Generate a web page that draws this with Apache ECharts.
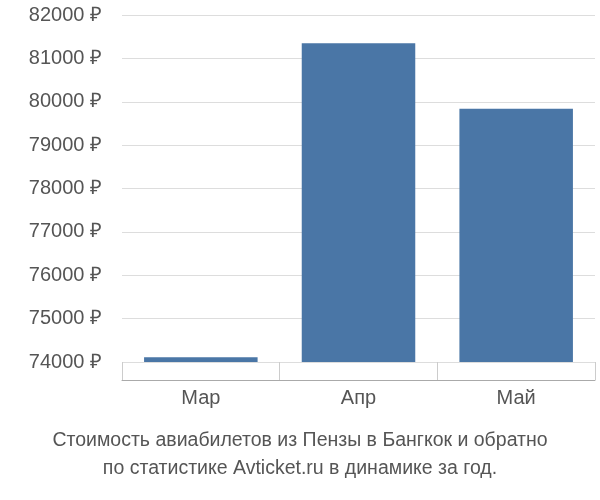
<!DOCTYPE html>
<html><head><meta charset="utf-8">
<script src="https://cdn.jsdelivr.net/npm/echarts@6/dist/echarts.min.js"></script>
<style>body{margin:0}#c{width:600px;height:500px}</style></head>
<body><div id="c"></div>
<script>
const categories = ['Мар', 'Апр', 'Май'];
const values = [74110, 81350, 79840];
const chart = echarts.init(document.getElementById('c'));
chart.setOption({
  animation: false,
  title: {
    text: 'Стоимость авиабилетов из Пензы в Бангкок и обратно\nпо статистике Avticket.ru в динамике за год.',
    left: 'center', bottom: 12,
    textStyle: {fontFamily: 'Liberation Sans, Arial', fontSize: 19.5, fontWeight: 'normal', color: '#555', lineHeight: 28}
  },
  grid: {left: 122, right: 5, top: 15, bottom: 138},
  xAxis: {
    type: 'category', data: categories, offset: 18,
    axisLine: {lineStyle: {color: '#aaa'}},
    axisTick: {show: true, inside: true, interval: 0, length: 18, lineStyle: {color: '#ccc'}},
    axisLabel: {fontFamily: 'Liberation Sans, Arial', fontSize: 20, color: '#555', margin: 8}
  },
  yAxis: {
    type: 'value', min: 74000, max: 82000, interval: 1000,
    axisLabel: {formatter: v => v + ' ₽', fontFamily: 'Liberation Sans, Arial', fontSize: 20, color: '#555', margin: 20},
    splitLine: {lineStyle: {color: '#ddd'}},
    axisLine: {show: false}, axisTick: {show: false}
  },
  series: [{type: 'bar', data: values, barCategoryGap: '28%', itemStyle: {color: '#4a76a6'}}]
});
</script></body></html>
